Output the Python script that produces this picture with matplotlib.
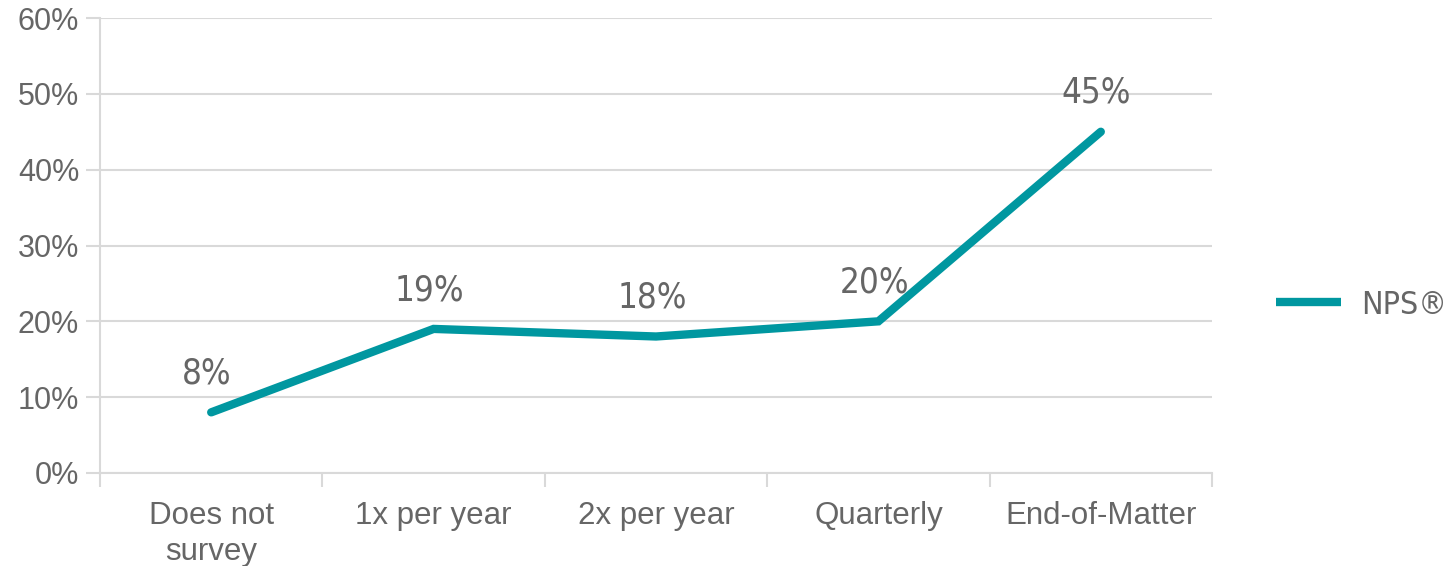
import matplotlib
matplotlib.use("Agg")
import matplotlib.pyplot as plt
from matplotlib.ticker import FixedLocator, PercentFormatter
from matplotlib import font_manager as fm

categories = ["Does not\nsurvey", "1x per year", "2x per year", "Quarterly", "End-of-Matter"]
nps_values = [0.08, 0.19, 0.18, 0.20, 0.45]
value_labels = ["8%", "19%", "18%", "20%", "45%"]
series_name = "NPS®"

LINE = "#0097a0"
TEXT = "#666666"
GRID = "#d9d9d9"

names = sorted({f.name for f in fm.fontManager.ttflist})
narrow = None
for cand in ["Liberation Sans Narrow", "DejaVu Sans Condensed"]:
    if cand in names:
        narrow = cand
        break
fam = [narrow or "DejaVu Sans", "DejaVu Sans"]
lab_prop = fm.FontProperties(family=fam, size=25, stretch="condensed")
leg_prop = fm.FontProperties(family=fam, size=23, stretch="condensed")

fig = plt.figure(figsize=(14.55, 5.66), dpi=100)
ax = fig.add_axes([100/1455, 1-473/566, (1212-100)/1455, (473-18)/566])

x = list(range(len(categories)))
line, = ax.plot(x, nps_values, color=LINE, lw=6, solid_capstyle="round",
                solid_joinstyle="miter", label=series_name, zorder=3)

for xi, v, lab in zip(x, nps_values, value_labels):
    ax.annotate(lab, (xi, v), xytext=(-3, 28), textcoords="offset points",
                ha="center", va="center", color=TEXT, fontproperties=lab_prop)

ax.set_xlim(-0.5, len(categories) - 0.5)
ax.set_ylim(0, 0.6)
ax.yaxis.set_major_locator(FixedLocator([i/10 for i in range(7)]))
ax.yaxis.set_major_formatter(PercentFormatter(1.0, decimals=0))
ax.grid(axis="y", color=GRID, lw=1.5, zorder=0)
ax.set_axisbelow(True)

ax.set_xticks(x)
ax.set_xticklabels(categories, fontsize=22.5, color=TEXT, family="Liberation Sans", linespacing=1.25)
ax.xaxis.set_minor_locator(FixedLocator([i - 0.5 for i in range(len(categories) + 1)]))
ax.tick_params(axis="x", which="major", length=0, pad=20)
ax.tick_params(axis="x", which="minor", length=10, width=1.5, color=GRID)
ax.tick_params(axis="y", length=10, width=1.5, color=GRID, labelsize=22, labelcolor=TEXT, pad=5)
for t in ax.get_yticklabels():
    t.set_family("Liberation Sans")

for s in ["top", "right"]:
    ax.spines[s].set_visible(False)
for s in ["left", "bottom"]:
    ax.spines[s].set_color(GRID)
    ax.spines[s].set_linewidth(1.5)

leg = fig.legend(handles=[line], labels=[series_name], loc="center left",
                 bbox_to_anchor=(1276/1455, 1-305/566), frameon=False,
                 handlelength=2.05, handletextpad=0.6, borderpad=0, borderaxespad=0,
                 prop=leg_prop)
for t in leg.get_texts():
    t.set_color(TEXT)
leg.get_lines()[0].set_solid_capstyle("butt")

fig.savefig("out.png", dpi=100)
